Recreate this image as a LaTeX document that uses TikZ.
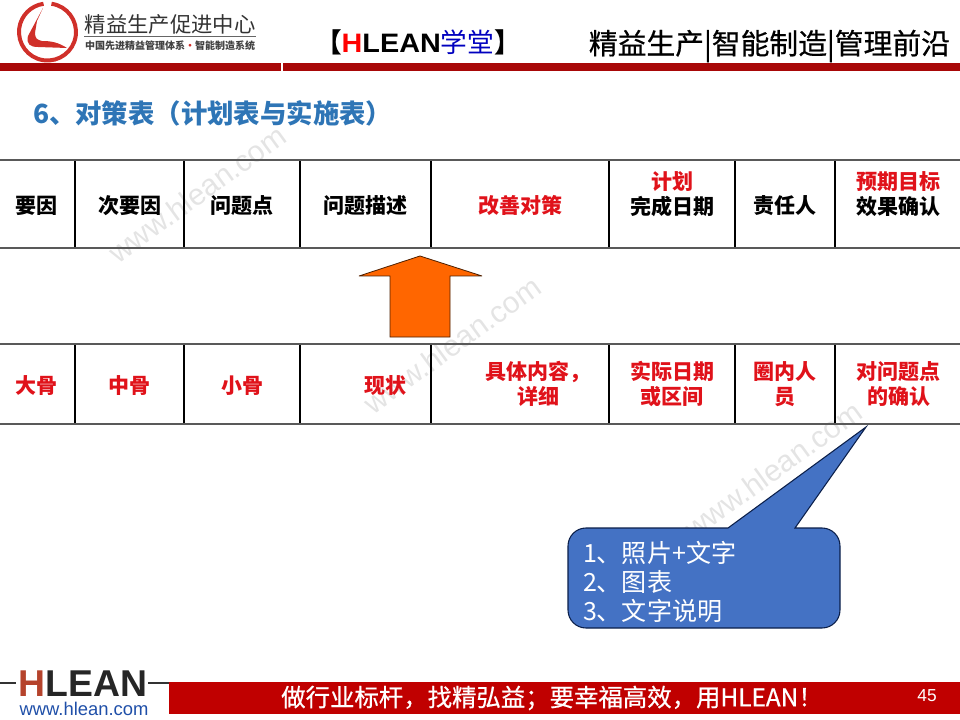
\documentclass[tikz,border=0pt]{standalone}
\usepackage{fontspec}
\setmainfont{Noto Sans CJK SC}
\newfontfamily\latinb{Liberation Sans}
\newfontfamily\semib[FakeBold=0.6]{Noto Sans CJK SC}
\definecolor{bandred}{HTML}{A80808}
\definecolor{footred}{HTML}{C00000}
\definecolor{cellred}{HTML}{E0121A}
\definecolor{titleblue}{HTML}{2E75B6}
\definecolor{calloutblue}{HTML}{4472C4}
\definecolor{calloutedge}{HTML}{0B1F4A}
\definecolor{arroworange}{HTML}{FF6600}
\definecolor{wmgrey}{HTML}{E4E4E4}
\definecolor{logored}{HTML}{D0302A}
\definecolor{hbrown}{HTML}{B5432C}
\definecolor{webblue}{HTML}{1F4FA8}
\tikzset{
  x=0.75pt,y=-0.75pt,
  cellbox/.style={draw=black,line width=.8pt,inner sep=0pt,outer sep=0pt,align=center,anchor=north west,font=\fontsize{15.75}{19}\selectfont\bfseries},
  oneline/.style={text height=15.5pt},
  redcell/.style={text=cellred},
  rowline/.style={draw=black!65,line width=1.4pt},
  watermark/.style={text=wmgrey,rotate=36,font=\latinb\fontsize{22.5}{26}\selectfont},
  plaintext/.style={inner sep=0pt,outer sep=0pt},
}
\newcommand{\cellat}[7]{\node[cellbox,#7,minimum width=#4*0.75pt,minimum height=#5*0.75pt] (#1) at (#2,#3) {#6};}
\begin{document}
\begin{tikzpicture}
\useasboundingbox (0,0) rectangle (960,720);
% watermarks
\node[watermark] (wa) at (197,194) {www.hlean.com};
\node[watermark] (wb) at (452,345) {www.hlean.com};
\node[watermark] (wc) at (773,470) {www.hlean.com};
% logo
\draw[logored,line width=3pt] (47.5,32) ++(-82:28.5) arc[start angle=-82,end angle=262,radius=28.5];
\fill[logored] (43,8) -- (28,36) .. controls (26,44) and (30,47) .. (38,47) -- (67,48) .. controls (58,42) and (50,41) .. (42,41) .. controls (37,40) and (35,38) .. (35,33) -- (37,21) -- cycle;
\node[plaintext,anchor=center,font=\fontsize{16}{18}\selectfont,text=black!80] (lt) at (170,24) {精益生产促进中心};
\node[plaintext,anchor=center,font=\fontsize{7.5}{8}\selectfont\bfseries,text=black!75] (ls) at (170,46) {中国先进精益管理体系{\color{logored}•}智能制造系统};
\coordinate (lla) at (84,36); \coordinate (llb) at (256,36);
\draw[black!60,line width=.5pt] (lla) -- (llb);
% top band
\fill[bandred] (0,63) rectangle (281,71);
\fill[bandred] (283,63) rectangle (960,71);
\node[plaintext,anchor=west,font=\fontsize{20}{22}\selectfont\bfseries] (hl) at (315,42) {【{\latinb\scalebox{1.08}[1]{\color{red}H\color{black}LEAN}}{\color{blue!75!black}\mdseries 学堂}】};
\node[plaintext,anchor=east,font=\semib\fontsize{21.6}{24}\selectfont,text=black] (hr) at (950,46) {精益生产|智能制造|管理前沿};
% title
\node[plaintext,anchor=west,font=\fontsize{19.8}{22}\selectfont\bfseries,text=titleblue] (ttl) at (33,113) {6、对策表（计划表与实施表）};
% upper row
\cellat{a1}{-2}{160}{77}{88}{要因}{oneline}
\cellat{a2}{75}{160}{109}{88}{次要因}{oneline}
\cellat{a3}{184}{160}{116}{88}{问题点}{oneline}
\cellat{a4}{300}{160}{131}{88}{问题描述}{oneline}
\cellat{a5}{431}{160}{178}{88}{\color{cellred}改善对策}{oneline}
\cellat{a6}{609}{160}{126}{88}{\color{cellred}计划\\\color{black}完成日期\\[-3pt]\mbox{}}{}
\cellat{a7}{735}{160}{100}{88}{责任人}{oneline}
\cellat{a8}{835}{160}{127}{88}{\color{cellred}预期目标\\\color{black}效果确认\\[-3pt]\mbox{}}{}
% lower row
\cellat{b1}{-2}{344}{77}{80}{大骨}{redcell,oneline}
\cellat{b2}{75}{344}{109}{80}{中骨}{redcell,oneline}
\cellat{b3}{184}{344}{116}{80}{小骨}{redcell,oneline}
\cellat{b4}{300}{344}{131}{80}{\hspace*{30pt}现状}{redcell,oneline}
\cellat{b5}{431}{344}{178}{80}{\hspace*{27pt}具体内容，\\\hspace*{27pt}详细}{redcell}
\cellat{b6}{609}{344}{126}{80}{实际日期\\或区间}{redcell}
\cellat{b7}{735}{344}{100}{80}{圈内人\\员}{redcell}
\cellat{b8}{835}{344}{127}{80}{对问题点\\的确认}{redcell}
\draw[rowline] (a1.north west) -- (a8.north east);
\draw[rowline] (a1.south west) -- (a8.south east);
\draw[rowline] (b1.north west) -- (b8.north east);
\draw[rowline] (b1.south west) -- (b8.south east);
% arrow
\draw[fill=arroworange,draw=black!70!arroworange,line width=.6pt,miter limit=3] (420,256) -- (482,276) -- (450,276) -- (450,337) -- (390,337) -- (390,276) -- (359,276) -- cycle;
% callout
\draw[fill=calloutblue,draw=calloutedge,line width=.8pt] (728,528) -- (866,427) -- (795,528) -- (822,528) arc[start angle=-90,end angle=0,radius=18] -- (840,610) arc[start angle=0,end angle=90,radius=18] -- (586,628) arc[start angle=90,end angle=180,radius=18] -- (568,546) arc[start angle=180,end angle=270,radius=18] -- cycle;
\node[plaintext,anchor=west,align=left,text=white,font=\fontsize{18.8}{21.7}\selectfont] (ct) at (583,582) {1、照片+文字\\2、图表\\3、文字说明};
% bottom
\coordinate (fa) at (0,683); \coordinate (fb) at (16,683); \coordinate (fc) at (148,683); \coordinate (fd) at (169,683);
\draw[black!80,line width=.8pt] (fa) -- (fb) (fc) -- (fd);
\fill[footred] (169,682) rectangle (960,714);
\node[plaintext,anchor=center,font=\latinb\fontsize{28}{30}\selectfont\bfseries] (hlg) at (83,684) {{\color{hbrown}H}{\color{black!85}LEAN}};
\node[plaintext,anchor=center,text=webblue,font=\latinb\fontsize{13.8}{15}\selectfont] (web) at (84,709) {www.hlean.com};
\node[plaintext,anchor=center,text=white,font=\semib\fontsize{18.3}{20}\selectfont] (slg) at (552,698) {做行业标杆，找精弘益；要幸福高效，用HLEAN！};
\node[plaintext,anchor=center,text=white,font=\latinb\fontsize{13}{14}\selectfont] (pg) at (927,696) {45};
\end{tikzpicture}
\end{document}
